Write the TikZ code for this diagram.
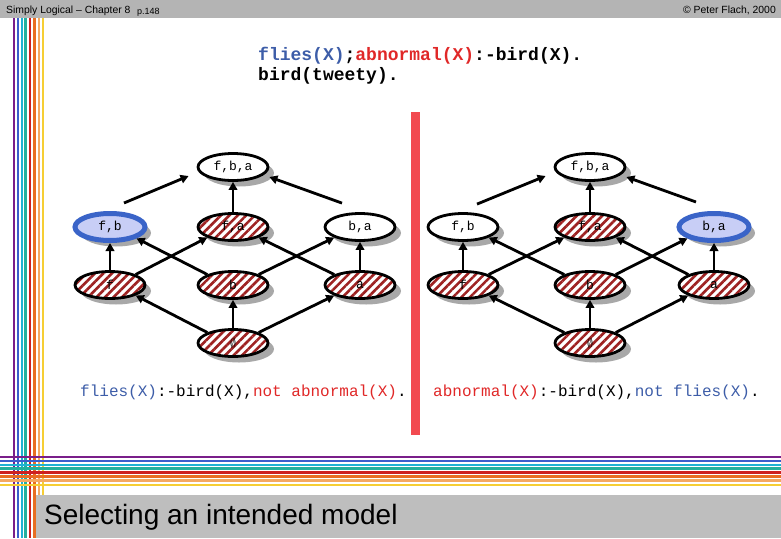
\documentclass[tikz,border=0pt]{standalone}
\usepackage{fontspec}
\usepackage{amssymb}
\setmainfont{Liberation Sans}
\newfontfamily\codefont{Liberation Mono}
\usetikzlibrary{shapes.geometric,arrows.meta,patterns.meta,shadows}

\definecolor{hdrgray}{HTML}{B4B4B4}
\definecolor{boxgray}{HTML}{BEBEBE}
\definecolor{shadowgray}{HTML}{A8A8A8}
\definecolor{hatchred}{HTML}{9E2222}
\definecolor{modelblue}{HTML}{3A64C8}
\definecolor{modelfill}{HTML}{C8CEF6}
\definecolor{flyblue}{HTML}{3D5DA8}
\definecolor{abred}{HTML}{E02828}
\definecolor{barred}{HTML}{F24A50}
\definecolor{sPurple}{HTML}{7A1E8A}
\definecolor{sBlue}{HTML}{3A5ECC}
\definecolor{sCyan}{HTML}{1EB2D4}
\definecolor{sTeal}{HTML}{22B09E}
\definecolor{sRed}{HTML}{CE2020}
\definecolor{sOrange}{HTML}{E86E22}
\definecolor{sPeach}{HTML}{F4A862}
\definecolor{sYellow}{HTML}{F6CE34}

\tikzset{
    world/.style={ellipse, draw=black, line width=2.8pt, minimum width=70pt,
        minimum height=27pt, inner sep=0pt,
        font=\codefont\fontsize{13}{13}\selectfont,
        drop shadow={shadow xshift=6pt, shadow yshift=-6pt, fill=shadowgray, opacity=1},
        fill=white},
    falsified/.style={world, preaction={fill=white},
        pattern={Lines[angle=45, distance=6pt, line width=2.6pt]},
        pattern color=hatchred},
    intended/.style={world, draw=modelblue, line width=5pt, fill=modelfill},
    up/.style={line width=2.8pt, -{Triangle[length=8pt, width=8.5pt]}},
    code/.style={font=\codefont\fontsize{16}{16}\selectfont, inner sep=0pt},
    stripe/.style={line width=2.4pt}
}

\begin{document}
\begin{tikzpicture}[x=1pt, y=-1pt]

        \useasboundingbox (0, 0) rectangle (781, 538);

        % header
        \fill[hdrgray] (0, 0) rectangle (781, 18);
        \node[anchor=base west, inner sep=0pt, font=\fontsize{10.4}{10}\selectfont] (chap) at (6, 13) {Simply Logical -- Chapter 8};
        \node[anchor=base west, inner sep=0pt, font=\fontsize{9}{9}\selectfont] (page) at (137, 14) {p.148};
        \node[anchor=base east, inner sep=0pt, font=\fontsize{10.4}{10}\selectfont] (copy) at (776, 13) {\textcopyright{} Peter Flach, 2000};

        % stripes
        \draw[stripe, sPurple] (14, 18) -- (14, 538);
        \draw[stripe, sBlue] (18, 18) -- (18, 538);
        \draw[stripe, sCyan] (22, 18) -- (22, 538);
        \draw[stripe, sTeal] (25.5, 18) -- (25.5, 538);
        \draw[stripe, sRed] (30, 18) -- (30, 538);
        \draw[stripe, sOrange] (34.5, 18) -- (34.5, 538);
        \draw[stripe, sPeach] (39, 18) -- (39, 538);
        \draw[stripe, sYellow] (43, 18) -- (43, 538);

        \draw[stripe, sPurple] (0, 457) -- (781, 457);
        \draw[stripe, sBlue] (0, 461) -- (781, 461);
        \draw[stripe, sCyan] (0, 465) -- (781, 465);
        \draw[stripe, sTeal] (0, 468.5) -- (781, 468.5);
        \draw[stripe, sRed] (0, 472.5) -- (781, 472.5);
        \draw[stripe, sOrange] (0, 476.5) -- (781, 476.5);
        \draw[stripe, sPeach] (0, 480.5) -- (781, 480.5);
        \draw[stripe, sYellow] (0, 485) -- (781, 485);

        % title
        \fill[boxgray] (36, 495) rectangle (781, 538);
        \node[anchor=base west, inner sep=0pt, font=\fontsize{28}{28}\selectfont] (title) at (44, 524) {Selecting an intended model};

        % program
        \node[code, anchor=base west, font=\codefont\bfseries\fontsize{18}{18}\selectfont] (clause) at (258, 60)
            {\textcolor{flyblue}{flies(X)};\textcolor{abred}{abnormal(X)}:-bird(X).};
        \node[code, anchor=base west, font=\codefont\bfseries\fontsize{18}{18}\selectfont] (fact) at (258, 80) {bird(tweety).};

        \fill[barred] (411, 112) rectangle (420, 435);

        % left lattice
        \node[world] (lfba) at (233, 167) {f,b,a};
        \node[intended] (lfb) at (110, 227) {f,b};
        \node[falsified] (lfa) at (233, 227) {f,a};
        \node[world] (lba) at (360, 227) {b,a};
        \node[falsified] (lf) at (110, 285) {f};
        \node[falsified] (lb) at (233, 285) {b};
        \node[falsified] (la) at (360, 285) {a};
        \node[falsified] (le) at (233, 343) {$\emptyset$};

        \draw[up] ([shift={(14pt,8pt)}]lfb.north) -- ([shift={(-8pt,-9pt)}]lfba.west);
        \draw[up] (lfa) -- (lfba);
        \draw[up] ([shift={(-18pt,9pt)}]lba.north) -- ([yshift=-10pt]lfba.east);
        \draw[up] (lf) -- (lfb);
        \draw[up] (lf.north east) -- (lfa.south west);
        \draw[up] (lb.north west) -- (lfb.south east);
        \draw[up] (lb.north east) -- (lba.south west);
        \draw[up] (la.north west) -- (lfa.south east);
        \draw[up] (la) -- (lba);
        \draw[up] (le.north west) -- (lf.south east);
        \draw[up] (le) -- (lb);
        \draw[up] (le.north east) -- (la.south west);

        \node[code, anchor=base west] (lrule) at (80, 396)
            {\textcolor{flyblue}{flies(X)}:-bird(X),\textcolor{abred}{not abnormal(X)}.};

        % right lattice
        \node[world] (rfba) at (590, 167) {f,b,a};
        \node[world] (rfb) at (463, 227) {f,b};
        \node[falsified] (rfa) at (590, 227) {f,a};
        \node[intended] (rba) at (714, 227) {b,a};
        \node[falsified] (rf) at (463, 285) {f};
        \node[falsified] (rb) at (590, 285) {b};
        \node[falsified] (ra) at (714, 285) {a};
        \node[falsified] (re) at (590, 343) {$\emptyset$};

        \draw[up] ([shift={(14pt,8pt)}]rfb.north) -- ([shift={(-8pt,-9pt)}]rfba.west);
        \draw[up] (rfa) -- (rfba);
        \draw[up] ([shift={(-18pt,9pt)}]rba.north) -- ([yshift=-10pt]rfba.east);
        \draw[up] (rf) -- (rfb);
        \draw[up] (rf.north east) -- (rfa.south west);
        \draw[up] (rb.north west) -- (rfb.south east);
        \draw[up] (rb.north east) -- (rba.south west);
        \draw[up] (ra.north west) -- (rfa.south east);
        \draw[up] (ra) -- (rba);
        \draw[up] (re.north west) -- (rf.south east);
        \draw[up] (re) -- (rb);
        \draw[up] (re.north east) -- (ra.south west);

        \node[code, anchor=base west] (rrule) at (433, 396)
            {\textcolor{abred}{abnormal(X)}:-bird(X),\textcolor{flyblue}{not flies(X)}.};

\end{tikzpicture}
\end{document}
